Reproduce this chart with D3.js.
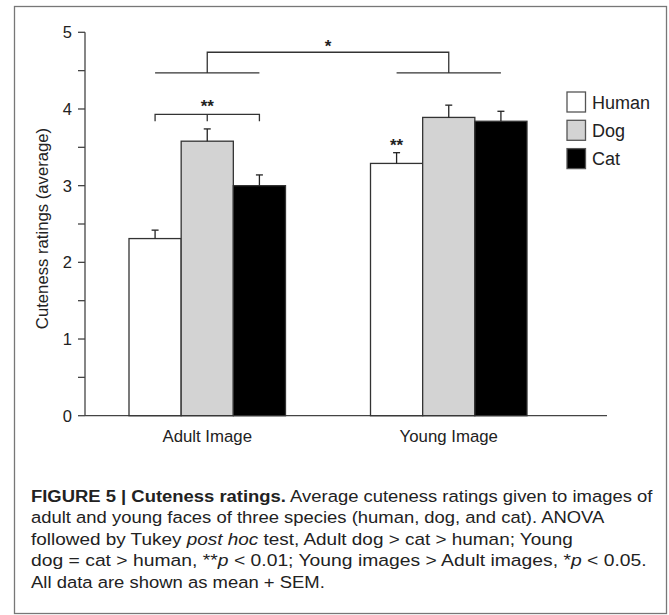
<!DOCTYPE html>
<html>
<head>
<meta charset="utf-8">
<script src="https://cdn.jsdelivr.net/npm/d3@7"></script>
<style>
  body { margin: 0; background: #fff; }
  svg { display: block; }
</style>
</head>
<body>
<svg id="fig"></svg>
<script>
var groups = ["Adult Image", "Young Image"];
var species = ["Human", "Dog", "Cat"];
var adultMeans = [2.31, 3.58, 3.0];
var adultSem = [0.11, 0.16, 0.14];
var youngMeans = [3.29, 3.89, 3.84];
var youngSem = [0.14, 0.16, 0.13];
var yTicks = [0, 1, 2, 3, 4, 5];
var yMinorTicks = [0.5, 1.5, 2.5, 3.5, 4.5];

var captionLines = [
  [["b", "FIGURE 5 | Cuteness ratings."], ["n", " Average cuteness ratings given to images of"]],
  [["n", "adult and young faces of three species (human, dog, and cat). ANOVA"]],
  [["n", "followed by Tukey "], ["i", "post hoc"], ["n", " test, Adult dog > cat > human; Young"]],
  [["n", "dog = cat > human, **"], ["i", "p"], ["n", " < 0.01; Young images > Adult images, *"], ["i", "p"], ["n", " < 0.05."]],
  [["n", "All data are shown as mean + SEM."]]
];
var captionEnds = [653, 605, 573, 647, 325];

var width = 669;
var height = 615;

var data = [];
groups.forEach(function (g, gi) {
  var means = gi === 0 ? adultMeans : youngMeans;
  var sems = gi === 0 ? adultSem : youngSem;
  species.forEach(function (s, si) {
    data.push({ group: g, species: s, mean: means[si], sem: sems[si] });
  });
});

var svg = d3.select("#fig").attr("width", width).attr("height", height);

// outer frame
svg.append("rect")
  .attr("x", 14.5).attr("y", 6.5)
  .attr("width", 652).attr("height", 607)
  .attr("fill", "none")
  .attr("stroke", "#777")
  .attr("stroke-width", 1.3);

var y = d3.scaleLinear().domain([0, 5]).range([415.7, 32.3]);
var x0 = d3.scaleBand().domain(groups).range([129, 527]).paddingInner(0.352);
var x1 = d3.scaleBand().domain(species).range([0, x0.bandwidth()]);

var colors = d3.scaleOrdinal().domain(species).range(["#ffffff", "#d3d3d3", "#000000"]);

var axisColor = "#444";
var font = "Liberation Sans, Arial, sans-serif";

// y axis
var yAxis = svg.append("g").attr("transform", "translate(85,0)");
yAxis.append("line")
  .attr("y1", y(5)).attr("y2", y(0))
  .attr("stroke", axisColor).attr("stroke-width", 1.3);
yAxis.selectAll(".tick")
  .data(yTicks.concat(yMinorTicks))
  .enter().append("line")
  .attr("x1", -7).attr("x2", 0)
  .attr("y1", (d) => y(d)).attr("y2", (d) => y(d))
  .attr("stroke", axisColor).attr("stroke-width", 1.3);
yAxis.selectAll(".lbl")
  .data(yTicks)
  .enter().append("text")
  .attr("x", -13)
  .attr("y", (d) => y(d) + 6)
  .attr("text-anchor", "end")
  .attr("font-family", font)
  .attr("font-size", 16.5)
  .attr("fill", "#222")
  .text((d) => d);

svg.append("text")
  .attr("transform", "translate(48,228.5) rotate(-90)")
  .attr("text-anchor", "middle")
  .attr("font-family", font)
  .attr("font-size", 16.7)
  .attr("fill", "#222")
  .text("Cuteness ratings (average)");

// x axis baseline
svg.append("line")
  .attr("x1", 85).attr("x2", 607)
  .attr("y1", y(0)).attr("y2", y(0))
  .attr("stroke", axisColor).attr("stroke-width", 1.3);

svg.selectAll(".glabel")
  .data(groups)
  .enter().append("text")
  .attr("x", (d) => x0(d) + x0.bandwidth() / 2)
  .attr("y", 442)
  .attr("text-anchor", "middle")
  .attr("font-family", font)
  .attr("font-size", 16.8)
  .attr("fill", "#222")
  .text((d) => d);

// bars
var bars = svg.append("g");
bars.selectAll("rect")
  .data(data)
  .enter().append("rect")
  .attr("x", (d) => x0(d.group) + x1(d.species))
  .attr("y", (d) => y(d.mean))
  .attr("width", x1.bandwidth())
  .attr("height", (d) => y(0) - y(d.mean))
  .attr("fill", (d) => colors(d.species))
  .attr("stroke", "#333")
  .attr("stroke-width", 1.3);

// error bars (mean + SEM)
var err = svg.append("g").attr("stroke", "#222").attr("stroke-width", 1.3);
data.forEach(function (d) {
  var cx = x0(d.group) + x1(d.species) + x1.bandwidth() / 2;
  err.append("line")
    .attr("x1", cx).attr("x2", cx)
    .attr("y1", y(d.mean)).attr("y2", y(d.mean + d.sem));
  err.append("line")
    .attr("x1", cx - 3.5).attr("x2", cx + 3.5)
    .attr("y1", y(d.mean + d.sem)).attr("y2", y(d.mean + d.sem));
});

// significance brackets
function barCenter(g, s) {
  return x0(g) + x1(s) + x1.bandwidth() / 2;
}
var br = svg.append("g").attr("stroke", "#333").attr("stroke-width", 1.3).attr("fill", "none");
groups.forEach(function (g) {
  br.append("line")
    .attr("x1", barCenter(g, "Human")).attr("x2", barCenter(g, "Cat"))
    .attr("y1", y(4.47)).attr("y2", y(4.47));
});
br.append("path")
  .attr("d", d3.line()([
    [barCenter(groups[0], "Dog"), y(4.47)],
    [barCenter(groups[0], "Dog"), y(4.74)],
    [barCenter(groups[1], "Dog"), y(4.74)],
    [barCenter(groups[1], "Dog"), y(4.47)]
  ]));
br.append("path")
  .attr("d", d3.line()([
    [barCenter(groups[0], "Human"), y(3.84)],
    [barCenter(groups[0], "Human"), y(3.93)],
    [barCenter(groups[0], "Cat"), y(3.93)],
    [barCenter(groups[0], "Cat"), y(3.84)]
  ]));
br.append("line")
  .attr("x1", barCenter(groups[0], "Dog")).attr("x2", barCenter(groups[0], "Dog"))
  .attr("y1", y(3.93)).attr("y2", y(3.84));

var stars = [
  { x: (barCenter(groups[0], "Dog") + barCenter(groups[1], "Dog")) / 2, y: 51.5, t: "*" },
  { x: barCenter(groups[0], "Dog"), y: 111.5, t: "**" },
  { x: barCenter(groups[1], "Human"), y: 150.5, t: "**" }
];
svg.selectAll(".star")
  .data(stars)
  .enter().append("text")
  .attr("x", (d) => d.x)
  .attr("y", (d) => d.y)
  .attr("text-anchor", "middle")
  .attr("font-family", font)
  .attr("font-weight", "bold")
  .attr("font-size", 17)
  .attr("fill", "#222")
  .text((d) => d.t);

// legend
var legend = svg.append("g").attr("transform", "translate(567,92)");
var leg = legend.selectAll("g")
  .data(species)
  .enter().append("g")
  .attr("transform", (d, i) => `translate(0, ${i * 28.3})`);
leg.append("rect")
  .attr("width", 18.5).attr("height", 20)
  .attr("fill", (d) => colors(d))
  .attr("stroke", "#555")
  .attr("stroke-width", 1.3);
leg.append("text")
  .attr("x", 25)
  .attr("y", 16.5)
  .attr("font-family", font)
  .attr("font-size", 18)
  .attr("fill", "#222")
  .text((d) => d);

// caption, condensed to fit the reference line widths
var cap = svg.append("g")
  .attr("font-family", "Liberation Sans Narrow, Liberation Sans, Arial, sans-serif")
  .attr("font-size", 17)
  .attr("fill", "#222");
captionLines.forEach(function (parts, i) {
  var t = cap.append("text").attr("x", 0).attr("y", 0);
  parts.forEach(function (p) {
    t.append("tspan")
      .attr("font-weight", p[0] === "b" ? "bold" : null)
      .attr("font-style", p[0] === "i" ? "italic" : null)
      .text(p[1]);
  });
  var w = t.node().getComputedTextLength();
  var sx = (captionEnds[i] - 31) / w;
  t.attr("transform", `translate(31, ${501.5 + i * 21.5}) scale(${sx}, 1)`);
});
</script>
</body>
</html>
